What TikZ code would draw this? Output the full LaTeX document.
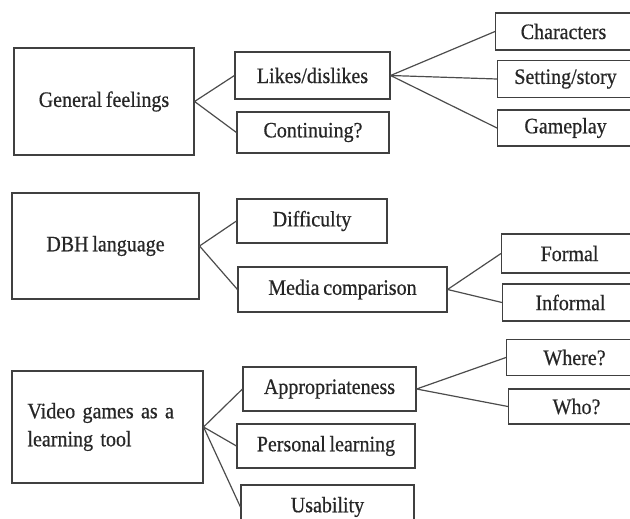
\documentclass[tikz,border=0pt]{standalone}
\usepackage{fontspec}
\setmainfont[FakeStretch=0.91, FakeBold=0.6, WordSpace=0.75]{Liberation Serif}
\usepackage{tikz}

\begin{document}
\begin{tikzpicture}[x=1pt, y=-1pt,
					box/.style={draw=black!75, line width=1.1pt, inner sep=0pt, align=center, text=black!85, font=\fontsize{22}{28}\selectfont},
					leaf/.style={box, anchor=west, minimum width=136pt},
					link/.style={draw=black!70, line width=1.2pt}]
					\useasboundingbox (0,0) rectangle (630,519);
					\clip (0,0) rectangle (630,519);
					% general feelings
					\node[box, minimum width=180pt, minimum height=107pt] (feel) at (104,101.5) {General feelings};
					\node[box, minimum width=155pt, minimum height=47pt] (likes) at (312.5,75.5) {Likes/dislikes};
					\node[box, minimum width=152pt, minimum height=41pt] (cont) at (313,132.5) {Continuing?};
					\node[leaf, minimum height=37pt] (chars) at (495,31.5) {Characters};
					\node[leaf, minimum height=37pt] (setting) at (497,79) {Setting/story};
					\node[leaf, minimum height=36pt] (gameplay) at (497,128) {Gameplay};
					% language
					\node[box, minimum width=187pt, minimum height=106pt] (dbh) at (105.5,246) {DBH language};
					\node[box, minimum width=150pt, minimum height=44pt] (diff) at (312,221) {Difficulty};
					\node[box, minimum width=209pt, minimum height=45pt] (media) at (342.5,289.5) {Media comparison};
					\node[leaf, minimum height=39pt] (formal) at (501,253.5) {Formal};
					\node[leaf, minimum height=37pt] (informal) at (502,302.5) {Informal};
					% learning tool
					\node[box, minimum width=191pt, minimum height=112pt, text width=160pt, align=left] (games) at (107.5,427) {Video games as a\\learning tool};
					\node[box, minimum width=173pt, minimum height=44pt] (approp) at (329.5,389) {Appropriateness};
					\node[box, minimum width=178pt, minimum height=44pt] (personal) at (326,446) {Personal learning};
					\node[box, minimum width=173pt, minimum height=44pt] (usab) at (327.5,507) {Usability};
					\node[leaf, minimum height=36pt] (where) at (506,357.5) {Where?};
					\node[leaf, minimum height=35pt] (who) at (508,406.5) {Who?};
					% connectors
					\draw[link] (feel.east) -- (likes.west) (feel.east) -- (cont.west);
					\draw[link] (likes.east) -- (chars.west) (likes.east) -- (setting.west) (likes.east) -- (gameplay.west);
					\draw[link] (dbh.east) -- (diff.west) (dbh.east) -- (media.west);
					\draw[link] (media.east) -- (formal.west) (media.east) -- (informal.west);
					\draw[link] (games.east) -- (approp.west) (games.east) -- (personal.west) (games.east) -- (usab.west);
					\draw[link] (approp.east) -- (where.west) (approp.east) -- (who.west);
				\end{tikzpicture}
\end{document}
